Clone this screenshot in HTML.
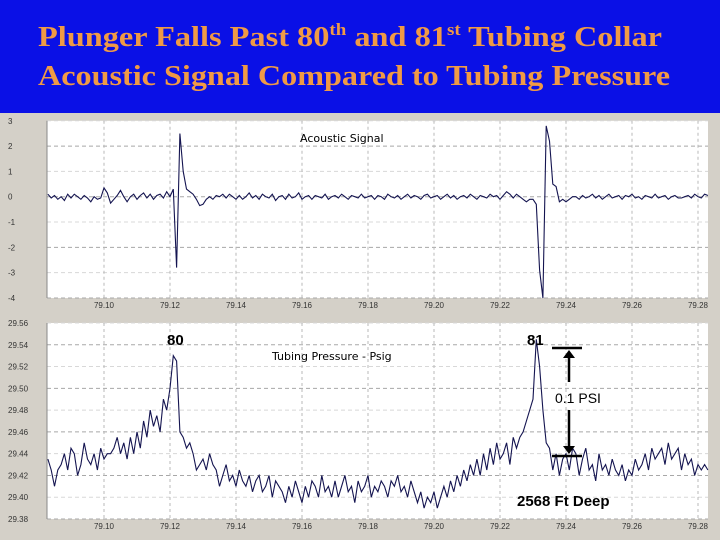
<!DOCTYPE html>
<html><head><meta charset="utf-8"><style>
html,body{margin:0;padding:0;width:720px;height:540px;overflow:hidden;background:#d4d0c8}
svg{display:block}
</style></head><body>
<svg id="chart" width="720" height="540" xmlns="http://www.w3.org/2000/svg">
<rect x="0" y="0" width="720" height="540" fill="#d4d0c8"/>
<rect x="0" y="0" width="720" height="113" fill="#0a10e6"/>
<text x="38" y="46" font-family="Liberation Serif, serif" font-weight="bold" font-size="29" fill="#f09a45" textLength="624" lengthAdjust="spacingAndGlyphs">Plunger Falls Past 80<tspan font-size="17" dy="-11">th</tspan><tspan dy="11"> and 81</tspan><tspan font-size="17" dy="-11">st</tspan><tspan dy="11"> Tubing Collar</tspan></text>
<text x="38" y="85" font-family="Liberation Serif, serif" font-weight="bold" font-size="29" fill="#f09a45" textLength="632" lengthAdjust="spacingAndGlyphs">Acoustic Signal Compared to Tubing Pressure</text>
<g id="top"></g>
<g id="bot"></g>
</svg>
<script>
const xTicks=[79.10,79.12,79.14,79.16,79.18,79.20,79.22,79.24,79.26,79.28];
const xStart=79.083, xStep=0.001;
const acTicks=[3,2,1,0,-1,-2,-3,-4];
const prTicks=[29.56,29.54,29.52,29.50,29.48,29.46,29.44,29.42,29.40,29.38];
const acoustic=[
0.1,-0.05,0.05,-0.1,0.0,-0.15,0.1,-0.05,0.1,0.0,
-0.1,0.05,-0.05,-0.2,0.0,-0.1,-0.05,0.35,0.15,-0.25,
-0.1,0.05,0.25,0.0,-0.2,0.0,0.1,-0.1,0.05,0.15,
-0.05,0.1,-0.1,0.05,0.1,-0.05,0.2,0.0,0.3,-2.8,
2.5,1.0,0.3,0.2,0.1,-0.1,-0.35,-0.3,-0.1,0.0,
-0.1,0.05,0.0,0.1,-0.05,0.1,0.0,-0.1,0.05,-0.1,
0.0,0.15,-0.05,0.05,-0.1,0.1,0.0,-0.05,0.1,-0.15,
0.0,0.05,-0.1,0.1,-0.05,0.0,0.15,-0.1,0.0,0.05,
-0.1,0.05,0.0,-0.05,0.1,-0.1,0.0,0.05,-0.05,0.1,
0.0,-0.1,0.05,0.0,-0.05,0.1,-0.05,0.0,0.05,-0.1,
0.05,0.0,-0.1,0.1,0.0,-0.05,0.05,-0.1,0.0,0.1,
-0.05,0.05,0.0,-0.1,0.05,0.1,-0.05,0.0,0.05,-0.1,
0.0,0.1,-0.05,0.05,-0.1,0.0,0.05,-0.05,0.1,0.0,
-0.1,0.05,0.0,-0.05,0.1,0.0,0.05,-0.1,0.05,0.2,
0.1,-0.05,0.1,0.0,-0.1,-0.2,-0.1,-0.1,-0.3,-2.9,
-4.0,2.8,2.2,0.5,0.4,-0.2,-0.1,-0.2,-0.1,0.0,
0.0,-0.1,0.05,-0.05,0.0,0.1,-0.05,0.05,-0.1,0.0,
0.1,-0.05,0.0,0.05,-0.1,0.05,0.0,0.1,-0.05,0.0,
-0.1,0.05,0.0,-0.05,0.1,-0.05,0.0,0.05,-0.1,0.0,
0.05,-0.05,-0.05,0.0,0.05,-0.05,0.1,0.0,-0.05,0.1,
0.05];
const pressure=[
29.435,29.425,29.41,29.425,29.43,29.44,29.425,29.445,29.44,29.42,
29.43,29.45,29.435,29.43,29.44,29.425,29.445,29.435,29.44,29.44,
29.445,29.455,29.44,29.45,29.435,29.455,29.44,29.46,29.445,29.47,
29.455,29.48,29.465,29.475,29.46,29.49,29.48,29.50,29.53,29.525,
29.46,29.455,29.445,29.45,29.44,29.425,29.43,29.435,29.425,29.44,
29.43,29.425,29.41,29.42,29.43,29.415,29.42,29.41,29.425,29.415,
29.41,29.42,29.405,29.415,29.42,29.405,29.41,29.42,29.40,29.415,
29.41,29.405,29.395,29.41,29.40,29.415,29.405,29.395,29.41,29.40,
29.415,29.41,29.40,29.42,29.405,29.41,29.40,29.415,29.40,29.41,
29.42,29.405,29.41,29.395,29.415,29.405,29.41,29.42,29.40,29.41,
29.405,29.415,29.41,29.40,29.415,29.41,29.42,29.405,29.41,29.40,
29.415,29.405,29.395,29.405,29.39,29.40,29.395,29.405,29.39,29.40,
29.41,29.40,29.415,29.405,29.42,29.41,29.425,29.415,29.43,29.42,
29.435,29.42,29.44,29.425,29.445,29.43,29.45,29.435,29.44,29.45,
29.43,29.455,29.445,29.455,29.46,29.47,29.48,29.49,29.545,29.52,
29.48,29.45,29.445,29.425,29.44,29.42,29.435,29.44,29.425,29.445,
29.44,29.42,29.435,29.445,29.425,29.43,29.415,29.44,29.425,29.43,
29.42,29.435,29.425,29.42,29.43,29.415,29.425,29.42,29.435,29.425,
29.43,29.44,29.425,29.445,29.435,29.44,29.445,29.43,29.45,29.435,
29.44,29.445,29.425,29.44,29.43,29.435,29.42,29.43,29.425,29.43,
29.425];
const NS='http://www.w3.org/2000/svg';
function el(tag,attrs,parent){const e=document.createElementNS(NS,tag);for(const k in attrs)e.setAttribute(k,attrs[k]);parent.appendChild(e);return e;}
const L=47,R=708;
const xs=v=>104+(v-79.10)*3300;
function drawPanel(g,top,bottom,ticks,vals,fmt,gridMajor,name){
  const ymax=ticks[0],ymin=ticks[ticks.length-1];
  const ys=v=>top+(ymax-v)/(ymax-ymin)*(bottom-top);
  const bg=el('rect',{x:L,y:top,width:R-L,height:bottom-top,fill:'#fff'},g);
  
  
  ticks.forEach((t,i)=>{
    const y=ys(t);
    const gl=el('line',{x1:L,x2:R,y1:y,y2:y,stroke:gridMajor(i)?'#a8a8a8':'#d8d8d8','stroke-dasharray':'4,3','stroke-width':1},g);
    
    
    const tl=el('text',{x:8,y:y+3,'font-family':'Liberation Sans, sans-serif','font-size':8,fill:'#333'},g);
    tl.textContent=fmt(t);
    
    
  });
  xTicks.forEach(t=>{
    const x=xs(t);
    const gl=el('line',{x1:x,x2:x,y1:top,y2:bottom,stroke:'#b8b8b8','stroke-dasharray':'3,3'},g);
    
    
    const tl=el('text',{x:x,y:bottom+10,'text-anchor':'middle','font-family':'Liberation Sans, sans-serif','font-size':8,fill:'#333'},g);
    tl.textContent=t.toFixed(2);
    
    
  });
  const ax=el('line',{x1:L,x2:L,y1:top,y2:bottom,stroke:'#888'},g);
  
  
  const pts=vals.map((v,i)=>xs(xStart+i*xStep).toFixed(1)+','+ys(v).toFixed(1)).join(' ');
  const pl=el('polyline',{points:pts,fill:'none',stroke:'#141450','stroke-width':1.1},g);
  
  
  return ys;
}
const gt=document.getElementById('top'), gb=document.getElementById('bot');
drawPanel(gt,120.8,298,acTicks,acoustic,t=>String(t),i=>i%2===1,'acoustic');
drawPanel(gb,323,519,prTicks,pressure,t=>t.toFixed(2),i=>i%2===1,'pressure');
function txt(g,x,y,s,size,name,weight,font){const t=el('text',{x:x,y:y,'font-family':font||'Liberation Sans, sans-serif','font-size':size,'font-weight':weight||'bold',fill:'#000'},g);t.textContent=s;return t;}
txt(gt,300,142,'Acoustic Signal',11,'acoustic-chart-title','normal','DejaVu Sans, sans-serif');
txt(gb,272,360,'Tubing Pressure - Psig',11,'pressure-chart-title','normal','DejaVu Sans, sans-serif');
txt(gb,167,345,'80',15,'collar-80-label');
txt(gb,527,345,'81',15,'collar-81-label');
txt(gb,555,403,'0.1 PSI',14,'psi-annotation','normal');
txt(gb,517,506,'2568 Ft Deep',15,'depth-annotation');
const ann=el('g',{stroke:'#000','stroke-width':2.5,fill:'none'},gb);


el('line',{x1:552,x2:582,y1:348,y2:348},ann);
el('line',{x1:552,x2:582,y1:456,y2:456},ann);
el('line',{x1:569,x2:569,y1:352,y2:382},ann);
el('line',{x1:569,x2:569,y1:410,y2:452},ann);
el('polygon',{points:'569,350 563,358 575,358',fill:'#000','stroke-width':0},ann);
el('polygon',{points:'569,454 563,446 575,446',fill:'#000','stroke-width':0},ann);
</script>
</body></html>
